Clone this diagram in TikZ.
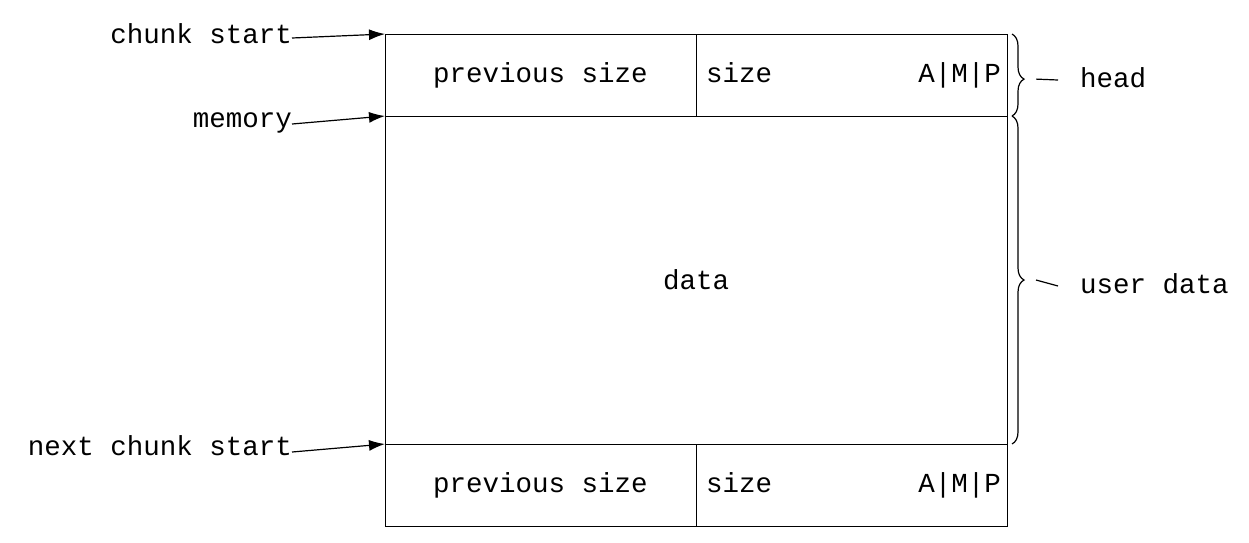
\documentclass[tikz,border=0pt]{standalone}
\usepackage{fontspec}
\setmonofont{Liberation Mono}
\usetikzlibrary{positioning,decorations.pathreplacing,arrows.meta}

\begin{document}
\begin{tikzpicture}[x=1pt,y=-1pt,
				every node/.style={font=\ttfamily\fontsize{27.5}{30}\selectfont,text height=19pt,text depth=5pt},
				cell/.style={minimum height=82pt,minimum width=311pt,inner sep=0pt,outer sep=0pt,draw,rectangle,node distance=0pt},
				lab/.style={inner sep=0pt,anchor=east},
				bracelab/.style={inner sep=0pt,anchor=west},
				ptr/.style={-{Latex[length=16pt,width=11pt]},line width=1.2pt}]
				\useasboundingbox (0,0) rectangle (1249,542);
				\node (PREV)  [cell,anchor=north west] at (385,34) {previous size};
				\node (SIZE)  [cell,right=of PREV]     {};
				\node (DATA)  [cell,minimum width=622pt,minimum height=328pt,anchor=north west,text height=,text depth=] at (PREV.south west) {data};
				\node (PREVB) [cell,anchor=north west] at (DATA.south west) {previous size};
				\node (SIZEB) [cell,right=of PREVB]    {};
				\node [inner sep=0pt,anchor=west] at ([xshift=10pt]SIZE.west)  {size};
				\node [inner sep=0pt,anchor=east] at ([xshift=-6pt]SIZE.east)  {A|M|P};
				\node [inner sep=0pt,anchor=west] at ([xshift=10pt]SIZEB.west) {size};
				\node [inner sep=0pt,anchor=east] at ([xshift=-6pt]SIZEB.east) {A|M|P};
				
				\node (CS)  [lab] at (292,36)  {chunk start};
				\node (MEM) [lab] at (292,120) {memory};
				\node (NCS) [lab] at (292,448) {next chunk start};
				\draw[ptr] ([yshift=-2pt]CS.east)  -- (PREV.north west);
				\draw[ptr] ([yshift=-4pt]MEM.east) -- (PREV.south west);
				\draw[ptr] ([yshift=-4pt]NCS.east) -- (PREVB.north west);
				
				\draw[decorate,decoration={brace,amplitude=12pt,aspect=0.55},line width=1.2pt]
					([xshift=5pt]SIZE.north east) -- ([xshift=5pt]SIZE.south east) coordinate[pos=0.55] (HB);
				\draw[decorate,decoration={brace,amplitude=12pt},line width=1.2pt]
					([xshift=5pt]DATA.north east) -- ([xshift=5pt]DATA.south east) coordinate[midway] (UB);
				\node (HEAD) [bracelab] at (1080,80)  {head};
				\node (USER) [bracelab] at (1080,286) {user data};
				\draw[line width=1.2pt] ([xshift=24pt]HB) -- ([xshift=-22pt]HEAD.west);
				\draw[line width=1.2pt] ([xshift=24pt]UB) -- ([xshift=-22pt]USER.west);
			\end{tikzpicture}
\end{document}
